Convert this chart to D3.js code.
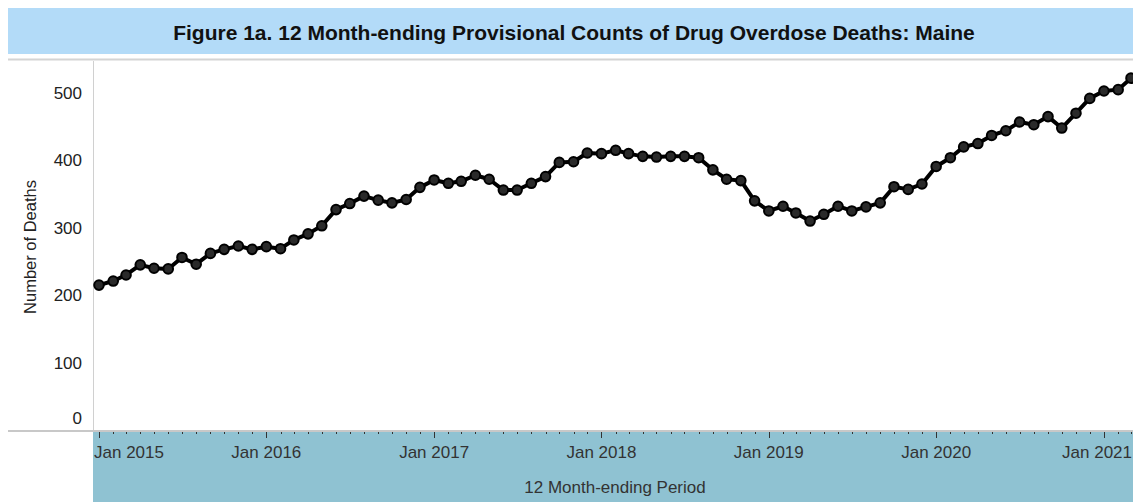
<!DOCTYPE html>
<html>
<head>
<meta charset="utf-8">
<script src="https://cdn.jsdelivr.net/npm/d3@7"></script>
<style>
  body { margin: 0; background: #fff; }
  svg { display: block; font-family: "Liberation Sans", Arial, sans-serif; }
</style>
</head>
<body>
<div id="chart"></div>
<script>
// 12 month-ending provisional counts, Jan 2015 .. Mar 2021
var months = d3.timeMonths(new Date(2015, 0, 1), new Date(2021, 3, 1))
var deaths = [
    215, 221, 230, 245, 240, 239, 256, 246, 262, 268, 273, 268,
    272, 269, 282, 291, 303, 327, 336, 347, 341, 337, 342, 360,
    371, 366, 369, 378, 372, 356, 356, 366, 376, 397, 398, 411,
    410, 415, 410, 406, 405, 406, 406, 404, 386, 372, 370, 340,
    325, 332, 322, 310, 320, 332, 325, 331, 337, 361, 357, 365,
    391, 404, 420, 425, 437, 444, 457, 453, 465, 448, 470, 492,
    503, 505, 522
]
var yTicks = [0, 100, 200, 300, 400, 500]
var xTickYears = [2015, 2016, 2017, 2018, 2019, 2020, 2021]

var title = "Figure 1a. 12 Month-ending Provisional Counts of Drug Overdose Deaths: Maine"
var yTitle = "Number of Deaths"
var xTitle = "12 Month-ending Period"

var data = months.map(function(d, i) {
    return {date: d, value: deaths[i]}
})

var width = 1133,
    height = 502,
    plotLeft = 93,
    plotTop = 61,
    axisY = 431

var svg = d3.select("#chart")
    .append("svg")
        .attr("width", width)
        .attr("height", height)

// scales
var x = d3.scaleTime()
    .domain([new Date(2015, 0, 1), new Date(2021, 2, 1)])
    .range([99, 1131])

var y = d3.scaleLinear()
    .domain([0, 500])
    .range([430, 93])

// title band
svg.append("rect")
    .attr("x", 8).attr("y", 8)
    .attr("width", width - 8).attr("height", 46)
    .style("fill", "#b3dbf8")

svg.append("text")
    .attr("x", 574).attr("y", 40)
    .attr("text-anchor", "middle")
    .style("font-size", "21px")
    .style("font-weight", "bold")
    .style("fill", "#111")
    .text(title)

// separator under the title
svg.append("line")
    .attr("x1", 8).attr("x2", width)
    .attr("y1", 59.5).attr("y2", 59.5)
    .style("stroke", "#d4d4d4")
    .style("stroke-width", 2)

// bottom axis band
svg.append("rect")
    .attr("x", plotLeft).attr("y", axisY + 1)
    .attr("width", width - plotLeft).attr("height", height - axisY)
    .style("fill", "#8fc2d2")

// left boundary of plot
svg.append("line")
    .attr("x1", plotLeft + 0.5).attr("x2", plotLeft + 0.5)
    .attr("y1", plotTop).attr("y2", axisY)
    .style("stroke", "#d0d0d0")

// zero line / x axis line
svg.append("line")
    .attr("x1", 8).attr("x2", width)
    .attr("y1", axisY).attr("y2", axisY)
    .style("stroke", "#c8c8c8")
    .style("stroke-width", 2)

// y axis labels
svg.append("g")
    .selectAll("text")
    .data(yTicks)
    .enter()
    .append("text")
    .attr("x", 82)
    .attr("y", function(d) {
        // the zero label is pushed up above the axis line
        return d == 0 ? 424 : y(d) + 6
    })
    .attr("text-anchor", "end")
    .style("font-size", "17px")
    .style("fill", "#222")
    .text(function(d) { return d })

svg.append("text")
    .attr("transform", "translate(36,247) rotate(-90)")
    .attr("text-anchor", "middle")
    .style("font-size", "16.5px")
    .style("fill", "#222")
    .text(yTitle)

// month ticks
var tickG = svg.append("g")
tickG.selectAll("line")
    .data(d3.timeMonths(new Date(2015, 0, 1), new Date(2021, 4, 1)))
    .enter()
    .append("line")
    .attr("x1", function(d) { return Math.round(x(d)) + 0.5 })
    .attr("x2", function(d) { return Math.round(x(d)) + 0.5 })
    .attr("y1", axisY + 1)
    .attr("y2", function(d) { return d.getMonth() == 0 ? axisY + 7 : axisY + 3 })
    .style("stroke", "#333")
    .style("stroke-width", 1)

// year labels (first and last are nudged inside the band)
svg.append("g")
    .selectAll("text")
    .data(xTickYears)
    .enter()
    .append("text")
    .attr("x", function(d, i) {
        if (i == 0) return plotLeft + 1
        if (i == xTickYears.length - 1) return width - 1
        return x(new Date(d, 0, 1))
    })
    .attr("y", 458)
    .attr("text-anchor", function(d, i) {
        if (i == 0) return "start"
        if (i == xTickYears.length - 1) return "end"
        return "middle"
    })
    .style("font-size", "17px")
    .style("fill", "#333")
    .text(function(d) { return "Jan " + d })

svg.append("text")
    .attr("x", 615).attr("y", 493)
    .attr("text-anchor", "middle")
    .style("font-size", "17px")
    .style("fill", "#333")
    .text(xTitle)

// series
var line = d3.line()
    .x(function(d) { return x(d.date) })
    .y(function(d) { return y(d.value) })

svg.append("path")
    .datum(data)
    .attr("d", line)
    .style("fill", "none")
    .style("stroke", "#000")
    .style("stroke-width", 4)
    .style("stroke-linejoin", "round")

svg.append("g")
    .selectAll("circle")
    .data(data)
    .enter()
    .append("circle")
    .attr("cx", function(d) { return x(d.date) })
    .attr("cy", function(d) { return y(d.value) })
    .attr("r", 4.8)
    .style("fill", "#2a2a2a")
    .style("stroke", "#000")
    .style("stroke-width", 2)
</script>
</body>
</html>
